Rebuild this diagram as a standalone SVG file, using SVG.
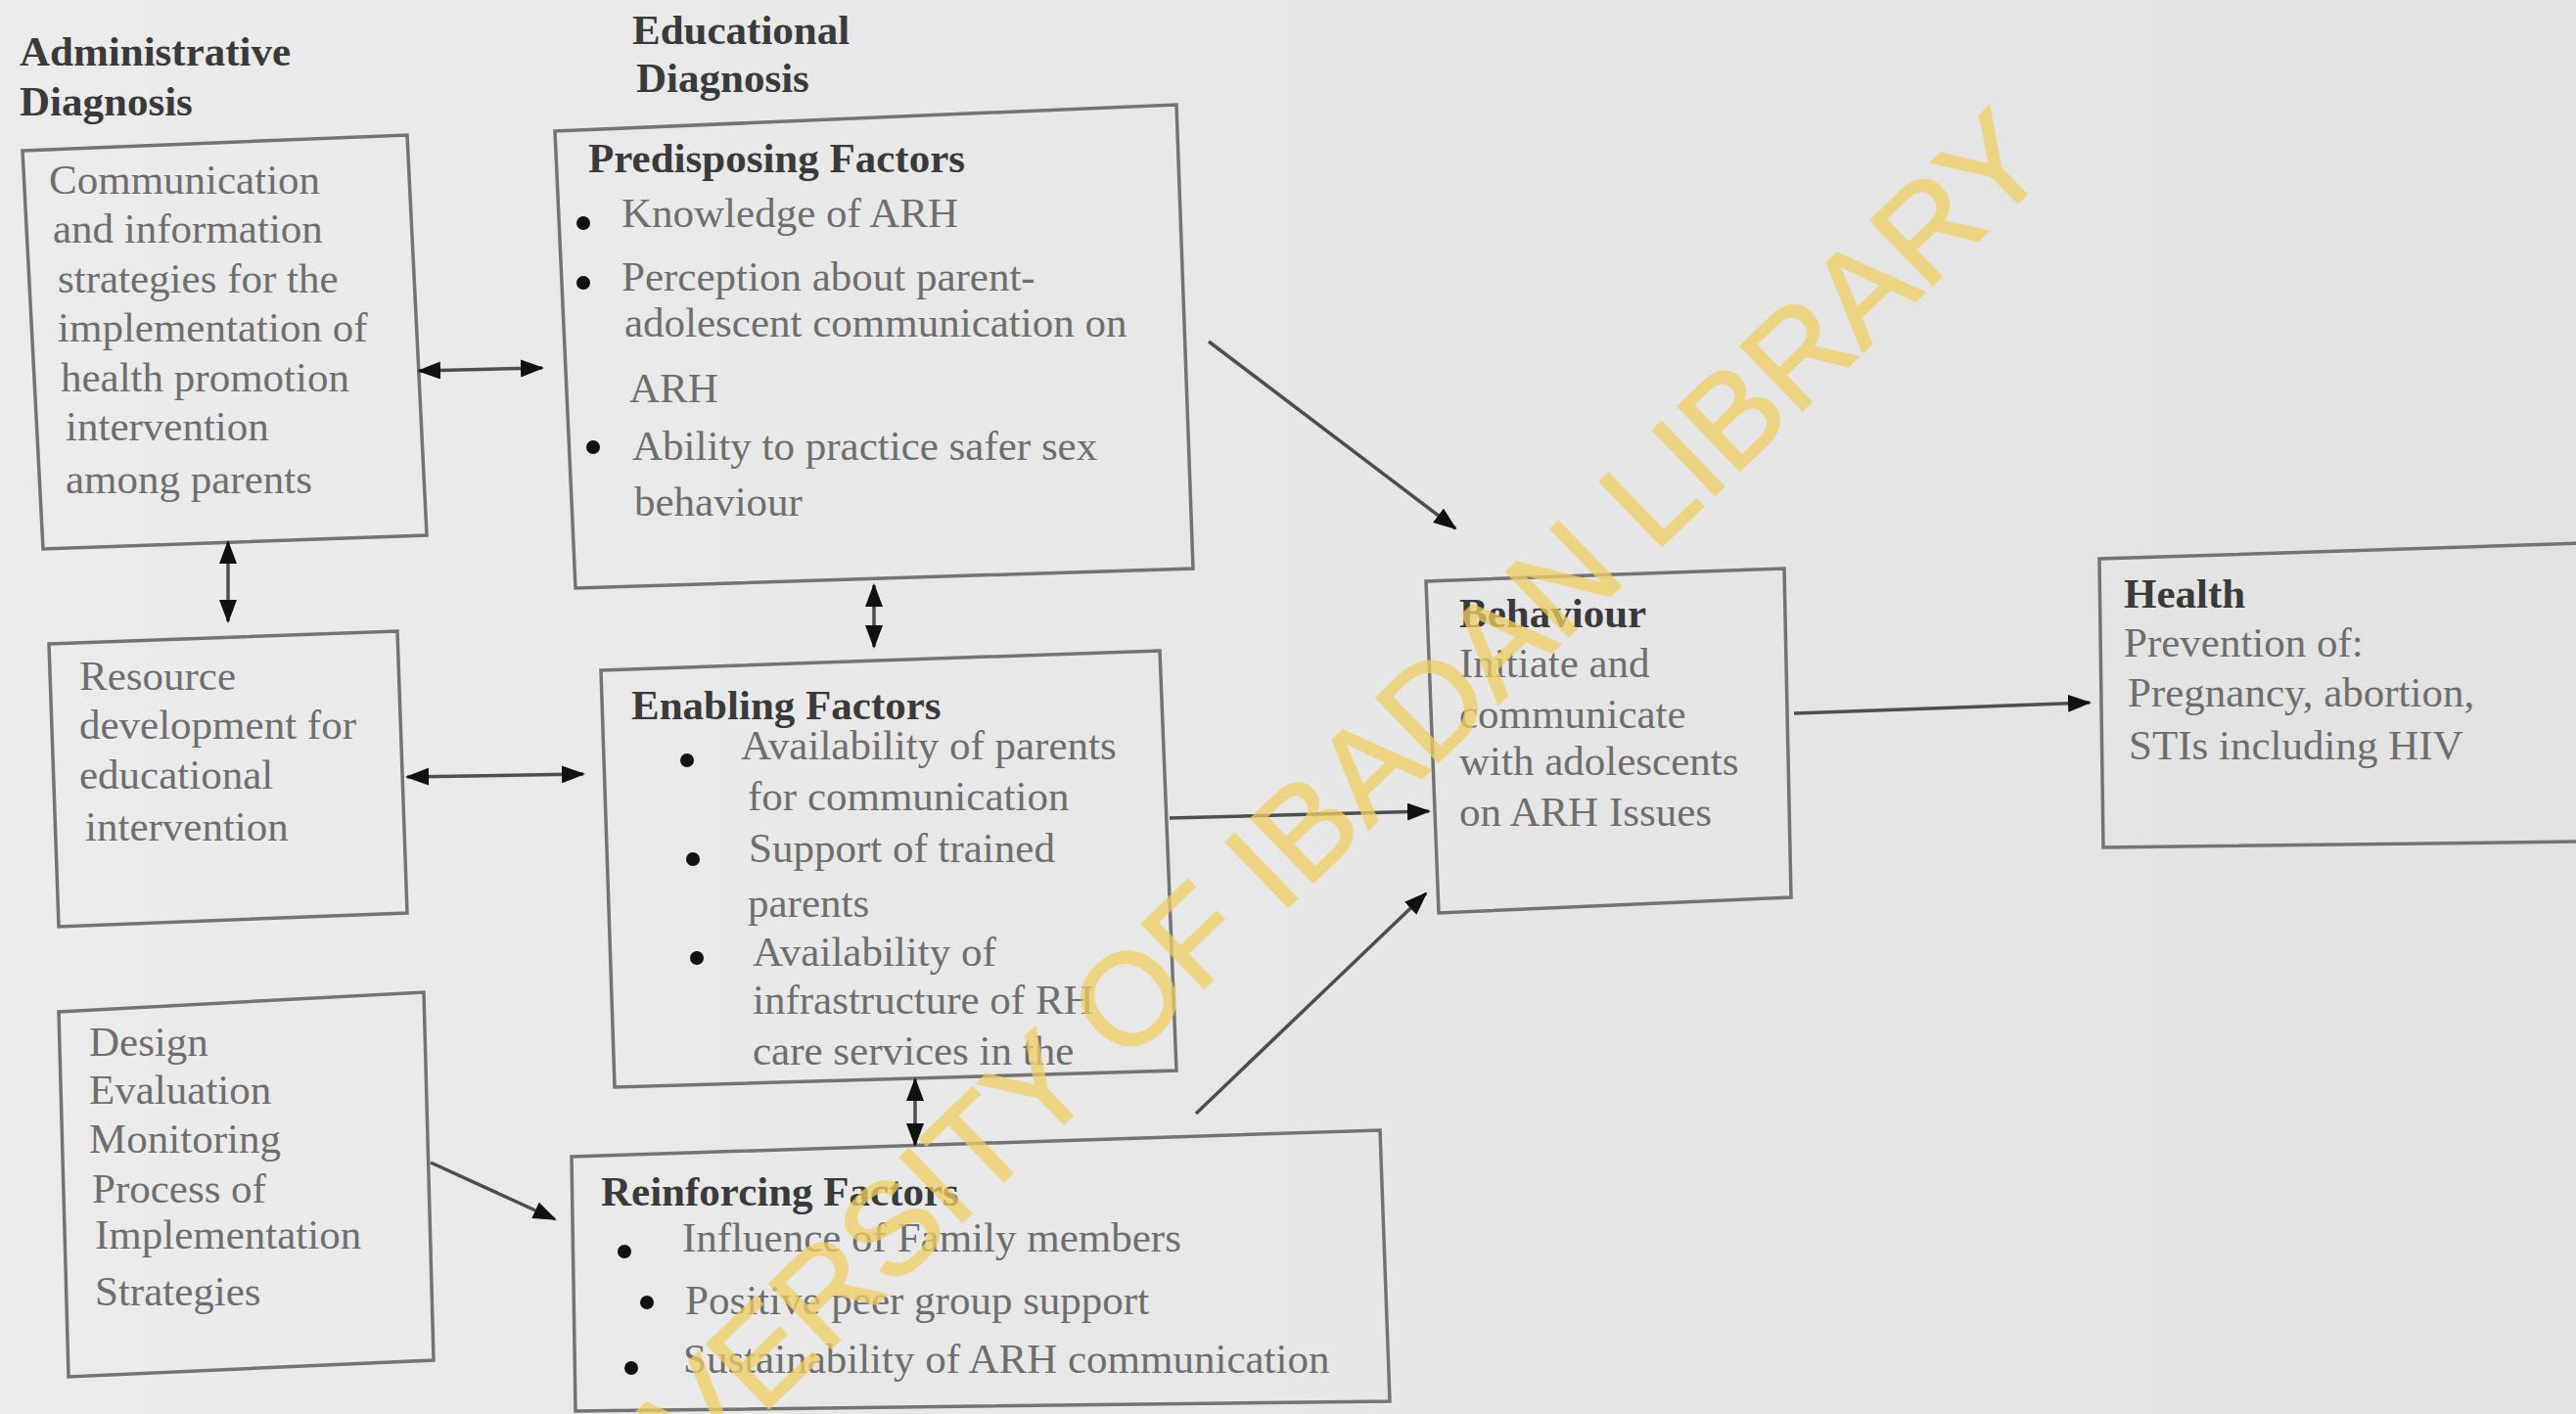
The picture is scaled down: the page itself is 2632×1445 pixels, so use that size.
<svg xmlns="http://www.w3.org/2000/svg" width="2632" height="1445" viewBox="0 0 2632 1445">
<defs>
<linearGradient id="bg" x1="0" y1="0" x2="1" y2="0">
<stop offset="0" stop-color="#ebebeb"/>
<stop offset="1" stop-color="#e2e2e2"/>
</linearGradient>
<marker id="ah" markerWidth="24" markerHeight="18" refX="22" refY="9" orient="auto-start-reverse" markerUnits="userSpaceOnUse">
<path d="M0,0 L24,9 L0,18 Z" fill="#111"/>
</marker>
<style>
.box{fill:none;stroke:#737373;stroke-width:3.5;stroke-linejoin:miter}
.t{font-family:"Liberation Serif","Times New Roman",serif;font-size:43px;fill:#6e6e6e}
.h{font-family:"Liberation Serif","Times New Roman",serif;font-size:43px;font-weight:bold;fill:#3a3a3a}
.lbl{font-family:"Liberation Serif","Times New Roman",serif;font-size:43px;font-weight:bold;fill:#3a3a3a}
.b{fill:#111}
.c{fill:none;stroke:#4e4e4e;stroke-width:3.5}
.wm{font-family:"Liberation Sans",Arial,sans-serif;font-size:133px;fill:#f0cf62;stroke:#f0cf62;stroke-width:2;opacity:0.75}
</style>
</defs>
<rect x="0" y="0" width="2632" height="1445" fill="url(#bg)"/>

<g id="label-admin">
<text class="lbl" x="20" y="67">Administrative</text>
<text class="lbl" x="20" y="118">Diagnosis</text>
</g>
<g id="label-edu">
<text class="lbl" x="646" y="45">Educational</text>
<text class="lbl" x="650" y="94">Diagnosis</text>
</g>

<g id="node-communication">
<polygon class="box" points="23,154 416,138 436,547 44,561"/>
<text class="t" x="50" y="198">Communication</text>
<text class="t" x="54" y="248">and information</text>
<text class="t" x="59" y="299">strategies for the</text>
<text class="t" x="59" y="349">implementation of</text>
<text class="t" x="62" y="400">health promotion</text>
<text class="t" x="67" y="450">intervention</text>
<text class="t" x="67" y="504">among parents</text>
</g>

<g id="node-predisposing">
<polygon class="box" points="567,134 1202,107 1219,581 588,601"/>
<text class="h" x="601" y="176">Predisposing Factors</text>
<circle class="b" cx="596" cy="228" r="7"/>
<text class="t" x="635" y="232">Knowledge of ARH</text>
<circle class="b" cx="596" cy="289" r="7"/>
<text class="t" x="635" y="297">Perception about parent-</text>
<text class="t" x="638" y="344">adolescent communication on</text>
<text class="t" x="643" y="411">ARH</text>
<circle class="b" cx="606" cy="457" r="7"/>
<text class="t" x="646" y="470">Ability to practice safer sex</text>
<text class="t" x="648" y="527">behaviour</text>
</g>

<g id="node-resource">
<polygon class="box" points="50,658 406,645 416,933 60,947"/>
<text class="t" x="81" y="705">Resource</text>
<text class="t" x="81" y="755">development for</text>
<text class="t" x="81" y="806">educational</text>
<text class="t" x="87" y="859">intervention</text>
</g>

<g id="node-design">
<polygon class="box" points="60,1034 433,1014 443,1390 70,1407"/>
<text class="t" x="91" y="1079">Design</text>
<text class="t" x="91" y="1128">Evaluation</text>
<text class="t" x="91" y="1178">Monitoring</text>
<text class="t" x="94" y="1229">Process of</text>
<text class="t" x="97" y="1276">Implementation</text>
<text class="t" x="97" y="1334">Strategies</text>
</g>

<g id="node-enabling">
<polygon class="box" points="614,685 1185,665 1202,1094 628,1111"/>
<text class="h" x="645" y="735">Enabling Factors</text>
<circle class="b" cx="702" cy="777" r="7"/>
<text class="t" x="757" y="776">Availability of parents</text>
<text class="t" x="764" y="828">for communication</text>
<circle class="b" cx="708" cy="878" r="7"/>
<text class="t" x="765" y="881">Support of trained</text>
<text class="t" x="764" y="937">parents</text>
<circle class="b" cx="712" cy="979" r="7"/>
<text class="t" x="769" y="987">Availability of</text>
<text class="t" x="769" y="1036">infrastructure of RH</text>
<text class="t" x="769" y="1088">care services in the</text>
</g>

<g id="node-reinforcing">
<polygon class="box" points="584,1182 1410,1155 1420,1432 588,1442"/>
<text class="h" x="614" y="1232">Reinforcing Factors</text>
<circle class="b" cx="638" cy="1279" r="7"/>
<text class="t" x="697" y="1279">Influence of Family members</text>
<circle class="b" cx="661" cy="1331" r="7"/>
<text class="t" x="700" y="1343">Positive peer group support</text>
<circle class="b" cx="645" cy="1398" r="7"/>
<text class="t" x="698" y="1403">Sustainability of ARH communication</text>
</g>

<g id="node-behaviour">
<polygon class="box" points="1457,594 1823,581 1830,917 1470,933"/>
<text class="h" x="1491" y="641">Behaviour</text>
<text class="t" x="1491" y="692">Initiate and</text>
<text class="t" x="1491" y="744">communicate</text>
<text class="t" x="1491" y="792">with adolescents</text>
<text class="t" x="1491" y="844">on ARH Issues</text>
</g>

<g id="node-health">
<polyline class="box" points="2640,555 2145,571 2149,866 2640,860"/>
<text class="h" x="2170" y="621">Health</text>
<text class="t" x="2170" y="671">Prevention of:</text>
<text class="t" x="2174" y="722">Pregnancy, abortion,</text>
<text class="t" x="2175" y="776">STIs including HIV</text>
</g>

<g id="connectors">
<line class="c" x1="428" y1="379" x2="554" y2="376" marker-start="url(#ah)" marker-end="url(#ah)"/>
<line class="c" x1="233" y1="554" x2="233" y2="635" marker-start="url(#ah)" marker-end="url(#ah)"/>
<line class="c" x1="893" y1="598" x2="893" y2="661" marker-start="url(#ah)" marker-end="url(#ah)"/>
<line class="c" x1="416" y1="794" x2="596" y2="791" marker-start="url(#ah)" marker-end="url(#ah)"/>
<line class="c" x1="935" y1="1103" x2="935" y2="1170" marker-start="url(#ah)" marker-end="url(#ah)"/>
<line class="c" x1="440" y1="1188" x2="567" y2="1246" marker-end="url(#ah)"/>
<line class="c" x1="1235" y1="349" x2="1487" y2="540" marker-end="url(#ah)"/>
<line class="c" x1="1195" y1="836" x2="1460" y2="829" marker-end="url(#ah)"/>
<line class="c" x1="1222" y1="1138" x2="1457" y2="913" marker-end="url(#ah)"/>
<line class="c" x1="1833" y1="729" x2="2135" y2="718" marker-end="url(#ah)"/>
</g>

<text class="wm" x="2098" y="172" text-anchor="end" transform="rotate(-44 2098 172)">UNIVERSITY OF IBADAN LIBRARY</text>
</svg>
